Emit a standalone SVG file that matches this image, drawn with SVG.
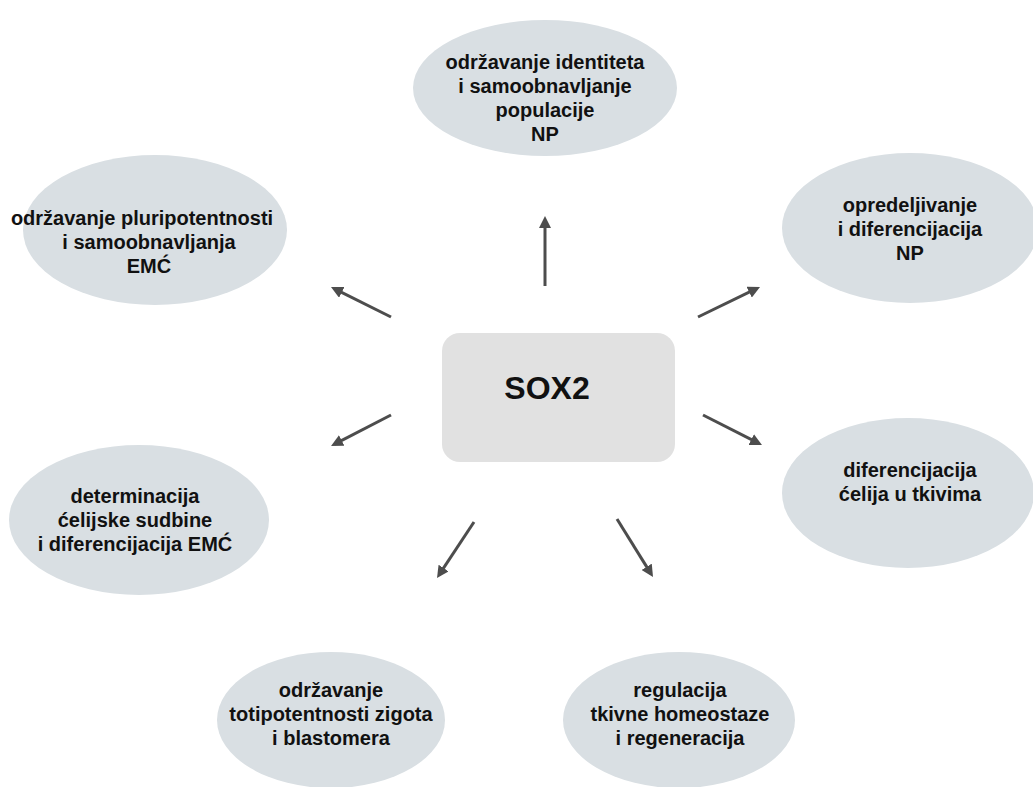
<svg xmlns="http://www.w3.org/2000/svg" width="1033" height="787" viewBox="0 0 1033 787">
<style>
.ell{fill:#d9dfe3;}
.box{fill:#e1e1e1;}
.t{font-family:"Liberation Sans",Arial,sans-serif;font-weight:bold;font-size:20px;fill:#111;text-anchor:middle;}
.big{font-size:32px;}
.arr{stroke:#4d4d4d;stroke-width:3;fill:none;marker-end:url(#ah);}
</style>
<defs>
<marker id="ah" markerUnits="userSpaceOnUse" markerWidth="12" markerHeight="12" refX="8" refY="6" orient="auto">
<path d="M0,0 L12,6 L0,12 Z" fill="#4d4d4d"/>
</marker>
</defs>
<rect width="1033" height="787" fill="#ffffff"/>
<g id="n-top">
<ellipse class="ell" cx="545" cy="88" rx="132" ry="68"/>
<text class="t" x="545" y="69">održavanje identiteta</text>
<text class="t" x="545" y="93">i samoobnavljanje</text>
<text class="t" x="545" y="117">populacije</text>
<text class="t" x="545" y="141">NP</text>
</g>
<g id="n-topleft">
<ellipse class="ell" cx="155" cy="230" rx="132" ry="75"/>
<text class="t" x="142" y="225">održavanje pluripotentnosti</text>
<text class="t" x="149" y="249">i samoobnavljanja</text>
<text class="t" x="149" y="273">EMĆ</text>
</g>
<g id="n-topright">
<ellipse class="ell" cx="910" cy="228" rx="128" ry="75"/>
<text class="t" x="910" y="212">opredeljivanje</text>
<text class="t" x="910" y="236">i diferencijacija</text>
<text class="t" x="910" y="260">NP</text>
</g>
<g id="n-sox2">
<rect class="box" x="442" y="333" width="233" height="129" rx="18" ry="18"/>
<text class="t big" x="547" y="399">SOX2</text>
</g>
<g id="n-rightmid">
<ellipse class="ell" cx="908" cy="493" rx="126" ry="75"/>
<text class="t" x="910" y="477">diferencijacija</text>
<text class="t" x="910" y="501">ćelija u tkivima</text>
</g>
<g id="n-leftbottom">
<ellipse class="ell" cx="139" cy="520" rx="130" ry="75"/>
<text class="t" x="135" y="503">determinacija</text>
<text class="t" x="135" y="527">ćelijske sudbine</text>
<text class="t" x="135" y="551">i diferencijacija EMĆ</text>
</g>
<g id="n-bottomleft">
<ellipse class="ell" cx="331" cy="720" rx="114" ry="68"/>
<text class="t" x="331" y="697">održavanje</text>
<text class="t" x="331" y="721">totipotentnosti zigota</text>
<text class="t" x="331" y="745">i blastomera</text>
</g>
<g id="n-bottomright">
<ellipse class="ell" cx="679" cy="720" rx="116" ry="68"/>
<text class="t" x="680" y="697">regulacija</text>
<text class="t" x="680" y="721">tkivne homeostaze</text>
<text class="t" x="680" y="745">i regeneracija</text>
</g>
<g id="connectors">
<line class="arr" x1="545" y1="286" x2="545" y2="220"/>
<line class="arr" x1="391" y1="317" x2="334.6" y2="288.8"/>
<line class="arr" x1="698" y1="317" x2="756.4" y2="288.7"/>
<line class="arr" x1="703" y1="415" x2="758.4" y2="443.2"/>
<line class="arr" x1="391" y1="415" x2="334.6" y2="444.2"/>
<line class="arr" x1="474" y1="522" x2="439.2" y2="574.7"/>
<line class="arr" x1="617" y1="519" x2="650.9" y2="573.6"/>
</g>
</svg>
